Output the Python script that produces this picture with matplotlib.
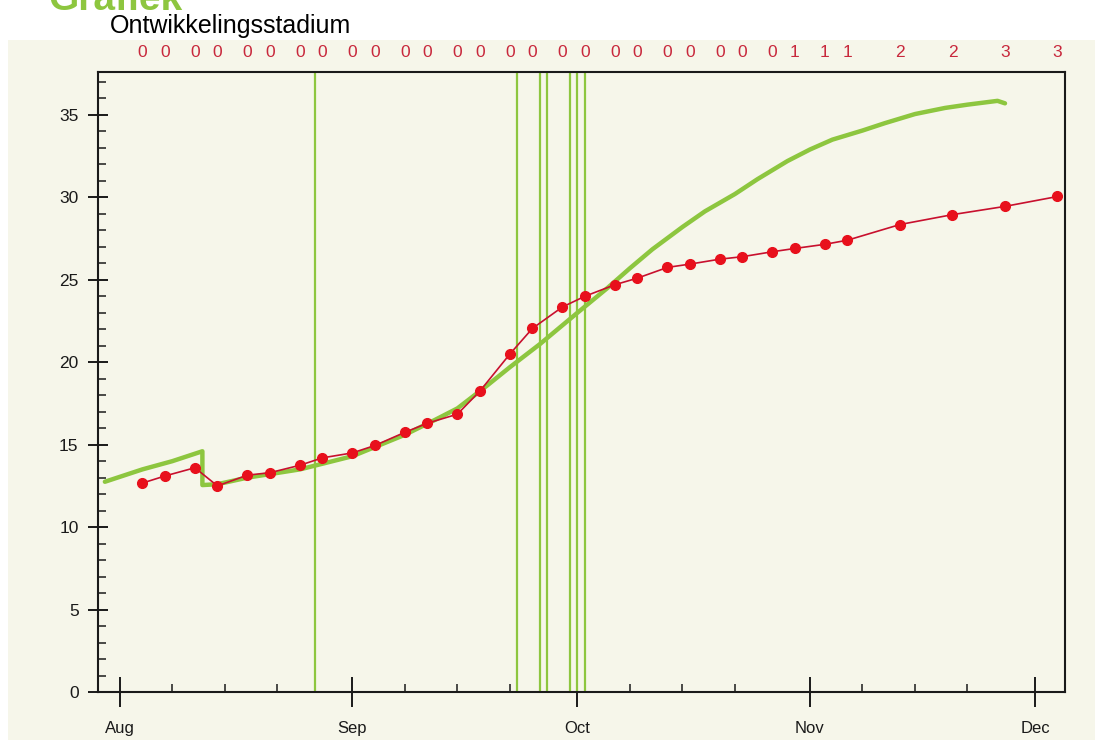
import matplotlib
matplotlib.use("Agg")
import matplotlib.pyplot as plt
import matplotlib.dates as mdates
from matplotlib.patches import Rectangle
from matplotlib.transforms import blended_transform_factory
from datetime import datetime

# measured points (red) with development stage
meet_dates = ["2010-08-04", "2010-08-07", "2010-08-11", "2010-08-14", "2010-08-18", "2010-08-21",
              "2010-08-25", "2010-08-28", "2010-09-01", "2010-09-04", "2010-09-08", "2010-09-11",
              "2010-09-15", "2010-09-18", "2010-09-22", "2010-09-25", "2010-09-29", "2010-10-02",
              "2010-10-06", "2010-10-09", "2010-10-13", "2010-10-16", "2010-10-20", "2010-10-23",
              "2010-10-27", "2010-10-30", "2010-11-03", "2010-11-06", "2010-11-13", "2010-11-20",
              "2010-11-27", "2010-12-04"]
meet_values = [12.67, 13.1, 13.6, 12.5, 13.15, 13.3, 13.75, 14.2, 14.5, 14.95, 15.75, 16.3,
               16.85, 18.25, 20.5, 22.05, 23.35, 24.0, 24.7, 25.1, 25.75, 25.95, 26.25, 26.4,
               26.7, 26.9, 27.15, 27.4, 28.35, 28.95, 29.45, 30.05]
stadium = [0, 0, 0, 0, 0, 0, 0, 0, 0, 0, 0, 0, 0, 0, 0, 0, 0, 0, 0, 0, 0, 0, 0, 0, 0,
           1, 1, 1, 2, 2, 3, 3]

# model curve (green)
model_dates = ["2010-07-30", "2010-08-04", "2010-08-08", "2010-08-12", "2010-08-12", "2010-08-14",
               "2010-08-18", "2010-08-25", "2010-09-01", "2010-09-08", "2010-09-12", "2010-09-15",
               "2010-09-19", "2010-09-22", "2010-09-26", "2010-10-01", "2010-10-05", "2010-10-08",
               "2010-10-11", "2010-10-15", "2010-10-18", "2010-10-22", "2010-10-25", "2010-10-29",
               "2010-11-01", "2010-11-04", "2010-11-08", "2010-11-11", "2010-11-15", "2010-11-19",
               "2010-11-22", "2010-11-26", "2010-11-27"]
model_values = [12.75, 13.5, 14.0, 14.6, 12.55, 12.6, 13.0, 13.5, 14.3, 15.6, 16.5, 17.2,
                18.6, 19.7, 21.1, 23.0, 24.5, 25.7, 26.85, 28.2, 29.15, 30.2, 31.1, 32.2,
                32.9, 33.5, 34.05, 34.5, 35.05, 35.42, 35.62, 35.85, 35.7]

# vertical markers
event_dates = ["2010-08-27", "2010-09-23", "2010-09-26", "2010-09-27", "2010-09-30",
               "2010-10-01", "2010-10-02"]

def to_dt(lst):
    return [datetime.strptime(d, "%Y-%m-%d") for d in lst]

green = "#8dc63f"
beige = "#f6f6ea"

fig = plt.figure(figsize=(10.95, 7.4), dpi=100)
fig.patch.set_facecolor("white")
panel = Rectangle((8 / 1095, 0), 1, 1 - 40 / 740, transform=fig.transFigure,
                  facecolor=beige, edgecolor="none", zorder=-10)
fig.add_artist(panel)

ax = fig.add_axes([98 / 1095, 1 - 692 / 740, (1065 - 98) / 1095, (692 - 72) / 740])
ax.set_facecolor(beige)
ax.set_zorder(1)

for d in to_dt(event_dates):
    ax.axvline(d, color=green, lw=1.6, zorder=2)

ax.plot(to_dt(model_dates), model_values, color=green, lw=3.2, zorder=3,
        solid_joinstyle="round", solid_capstyle="round")
ax.plot(to_dt(meet_dates), meet_values, color="#c8102e", lw=1.2, zorder=4,
        marker="o", markersize=7, markerfacecolor="#e8101c", markeredgecolor="#e8101c")

ax.set_xlim(datetime(2010, 7, 29, 2), datetime(2010, 12, 5, 0))
ax.set_ylim(0, 37.6)

ax.xaxis.set_major_locator(mdates.MonthLocator())
ax.xaxis.set_major_formatter(mdates.DateFormatter("%b"))
ax.xaxis.set_minor_locator(mdates.DayLocator(bymonthday=[8, 15, 22]))
ax.set_yticks(range(0, 36, 5))
ax.set_yticks(range(0, 38), minor=True)

for s in ax.spines.values():
    s.set_linewidth(1.5)
    s.set_color("#1a1a1a")

ax.tick_params(axis="x", which="major", direction="inout", length=22, width=1.4,
               pad=10, labelsize=12, colors="#1a1a1a")
ax.tick_params(axis="y", which="major", direction="inout", length=14, width=1.4,
               pad=7, labelsize=12.5, colors="#1a1a1a")
ax.tick_params(which="minor", direction="in", length=5.8, width=1.1, colors="#1a1a1a")
for lab in ax.get_xticklabels() + ax.get_yticklabels():
    lab.set_family(["Liberation Sans", "DejaVu Sans"])

# stage numbers above the plot
trans = blended_transform_factory(ax.transData, ax.transAxes)
for d, s in zip(to_dt(meet_dates), stadium):
    ax.text(d, 1.032, str(s), transform=trans, ha="center", va="center",
            color="#c8283c", fontsize=12.5, family=["Liberation Sans", "DejaVu Sans"],
            clip_on=False)

fig.text(110 / 1095, 1 - 33 / 740, "Ontwikkelingsstadium", fontsize=18,
         family=["Liberation Sans", "DejaVu Sans"],
         va="baseline", ha="left", color="black")
fig.text(48 / 1095, 1 - 10 / 740, "Grafiek", fontsize=28, fontweight="bold",
         family=["Liberation Sans", "DejaVu Sans"], va="baseline", ha="left", color=green)

fig.savefig("out.png", dpi=100)
